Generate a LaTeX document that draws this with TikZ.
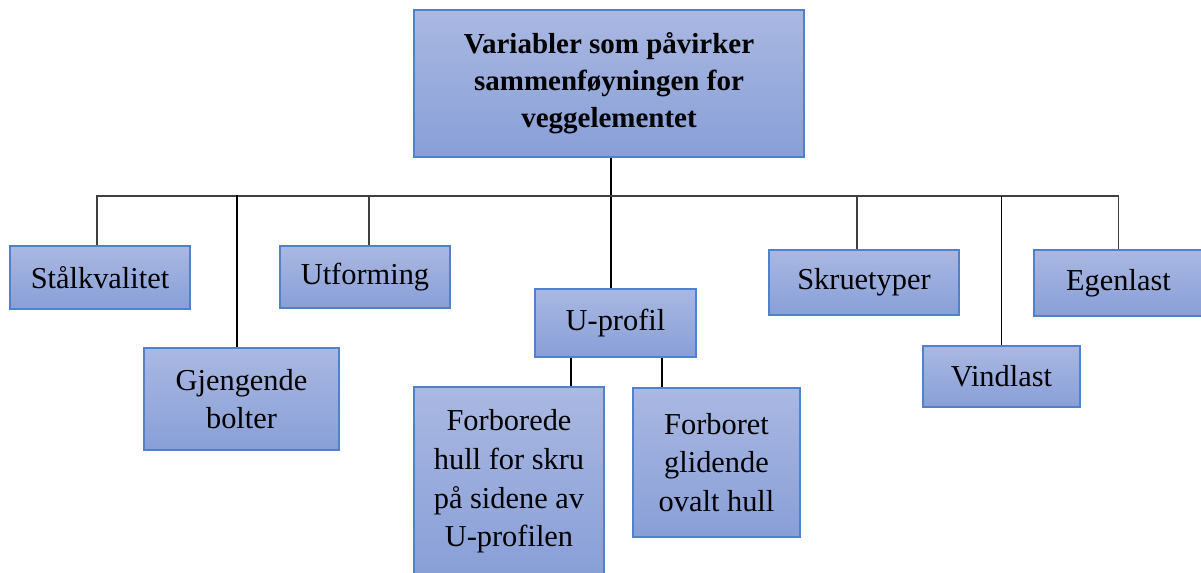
\documentclass[tikz,border=0pt]{standalone}
\usepackage{fontspec}
\setmainfont{Liberation Serif}
\definecolor{boxtop}{HTML}{AAB8E2}
\definecolor{boxbot}{HTML}{889FD7}
\definecolor{boxline}{HTML}{4F81CC}
\definecolor{busgray}{HTML}{404040}
\begin{document}
\begin{tikzpicture}[x=0.02cm, y=-0.02cm,
  every node/.style={draw=boxline, line width=0.9pt, top color=boxtop, bottom color=boxbot,
    align=center, inner sep=0pt, font=\fontsize{17.3}{22}\selectfont},
  boxsize/.style 2 args={minimum width=#1*0.02cm, minimum height=#2*0.02cm},
  bus/.style={draw=busgray, line width=1.1pt},
  link/.style={draw=black, line width=0.75pt}]
  \useasboundingbox (0,0) rectangle (1201,572);
  \node[boxsize={390}{147}, font=\bfseries\fontsize{16.5}{21}\selectfont] (top) at (609,83.5)
    {Variabler som påvirker\\sammenføyningen for\\veggelementet};
  \node[boxsize={180}{63}] (stal) at (100,277.5) {Stålkvalitet};
  \node[boxsize={195}{102}] (gjeng) at (241.5,399) {Gjengende\\bolter};
  \node[boxsize={170}{62}] (utform) at (365,277) {Utforming};
  \node[boxsize={161}{68}] (uprofil) at (615.5,323) {U-profil};
  \node[boxsize={190}{189}] (forbor) at (509,481.5)
    {Forborede\\hull for skru\\på sidene av\\U-profilen};
  \node[boxsize={167}{149}] (glid) at (716.5,462.5) {Forboret\\glidende\\ovalt hull};
  \node[boxsize={190}{65}] (skrue) at (864,282.5) {Skruetyper};
  \node[boxsize={157}{61}] (vind) at (1001.5,376.5) {Vindlast};
  \node[boxsize={169}{66}] (egen) at (1118.5,283) {Egenlast};
  \coordinate (bus) at (611,196);
  \coordinate (lft) at (571,0);
  \coordinate (rgt) at (662,0);
  % connectors
  \draw[link] (bus |- top.south) -- (bus |- uprofil.north);
  \draw[bus] ([xshift=-0.06cm]stal.north) |- (egen.north |- bus) -- (egen.north);
  \draw[bus] ([xshift=0.08cm]utform.north) -- +(0,-50);
  \draw[bus] ([xshift=-0.14cm]skrue.north) -- +(0,-54);
  \draw[link] ([xshift=-0.09cm]gjeng.north) -- +(0,-152);
  \draw[link] (vind.north) -- (vind.north |- bus);
  \draw[link] (uprofil.south -| lft) -- (forbor.north -| lft);
  \draw[link] (uprofil.south -| rgt) -- (glid.north -| rgt);
\end{tikzpicture}
\end{document}
